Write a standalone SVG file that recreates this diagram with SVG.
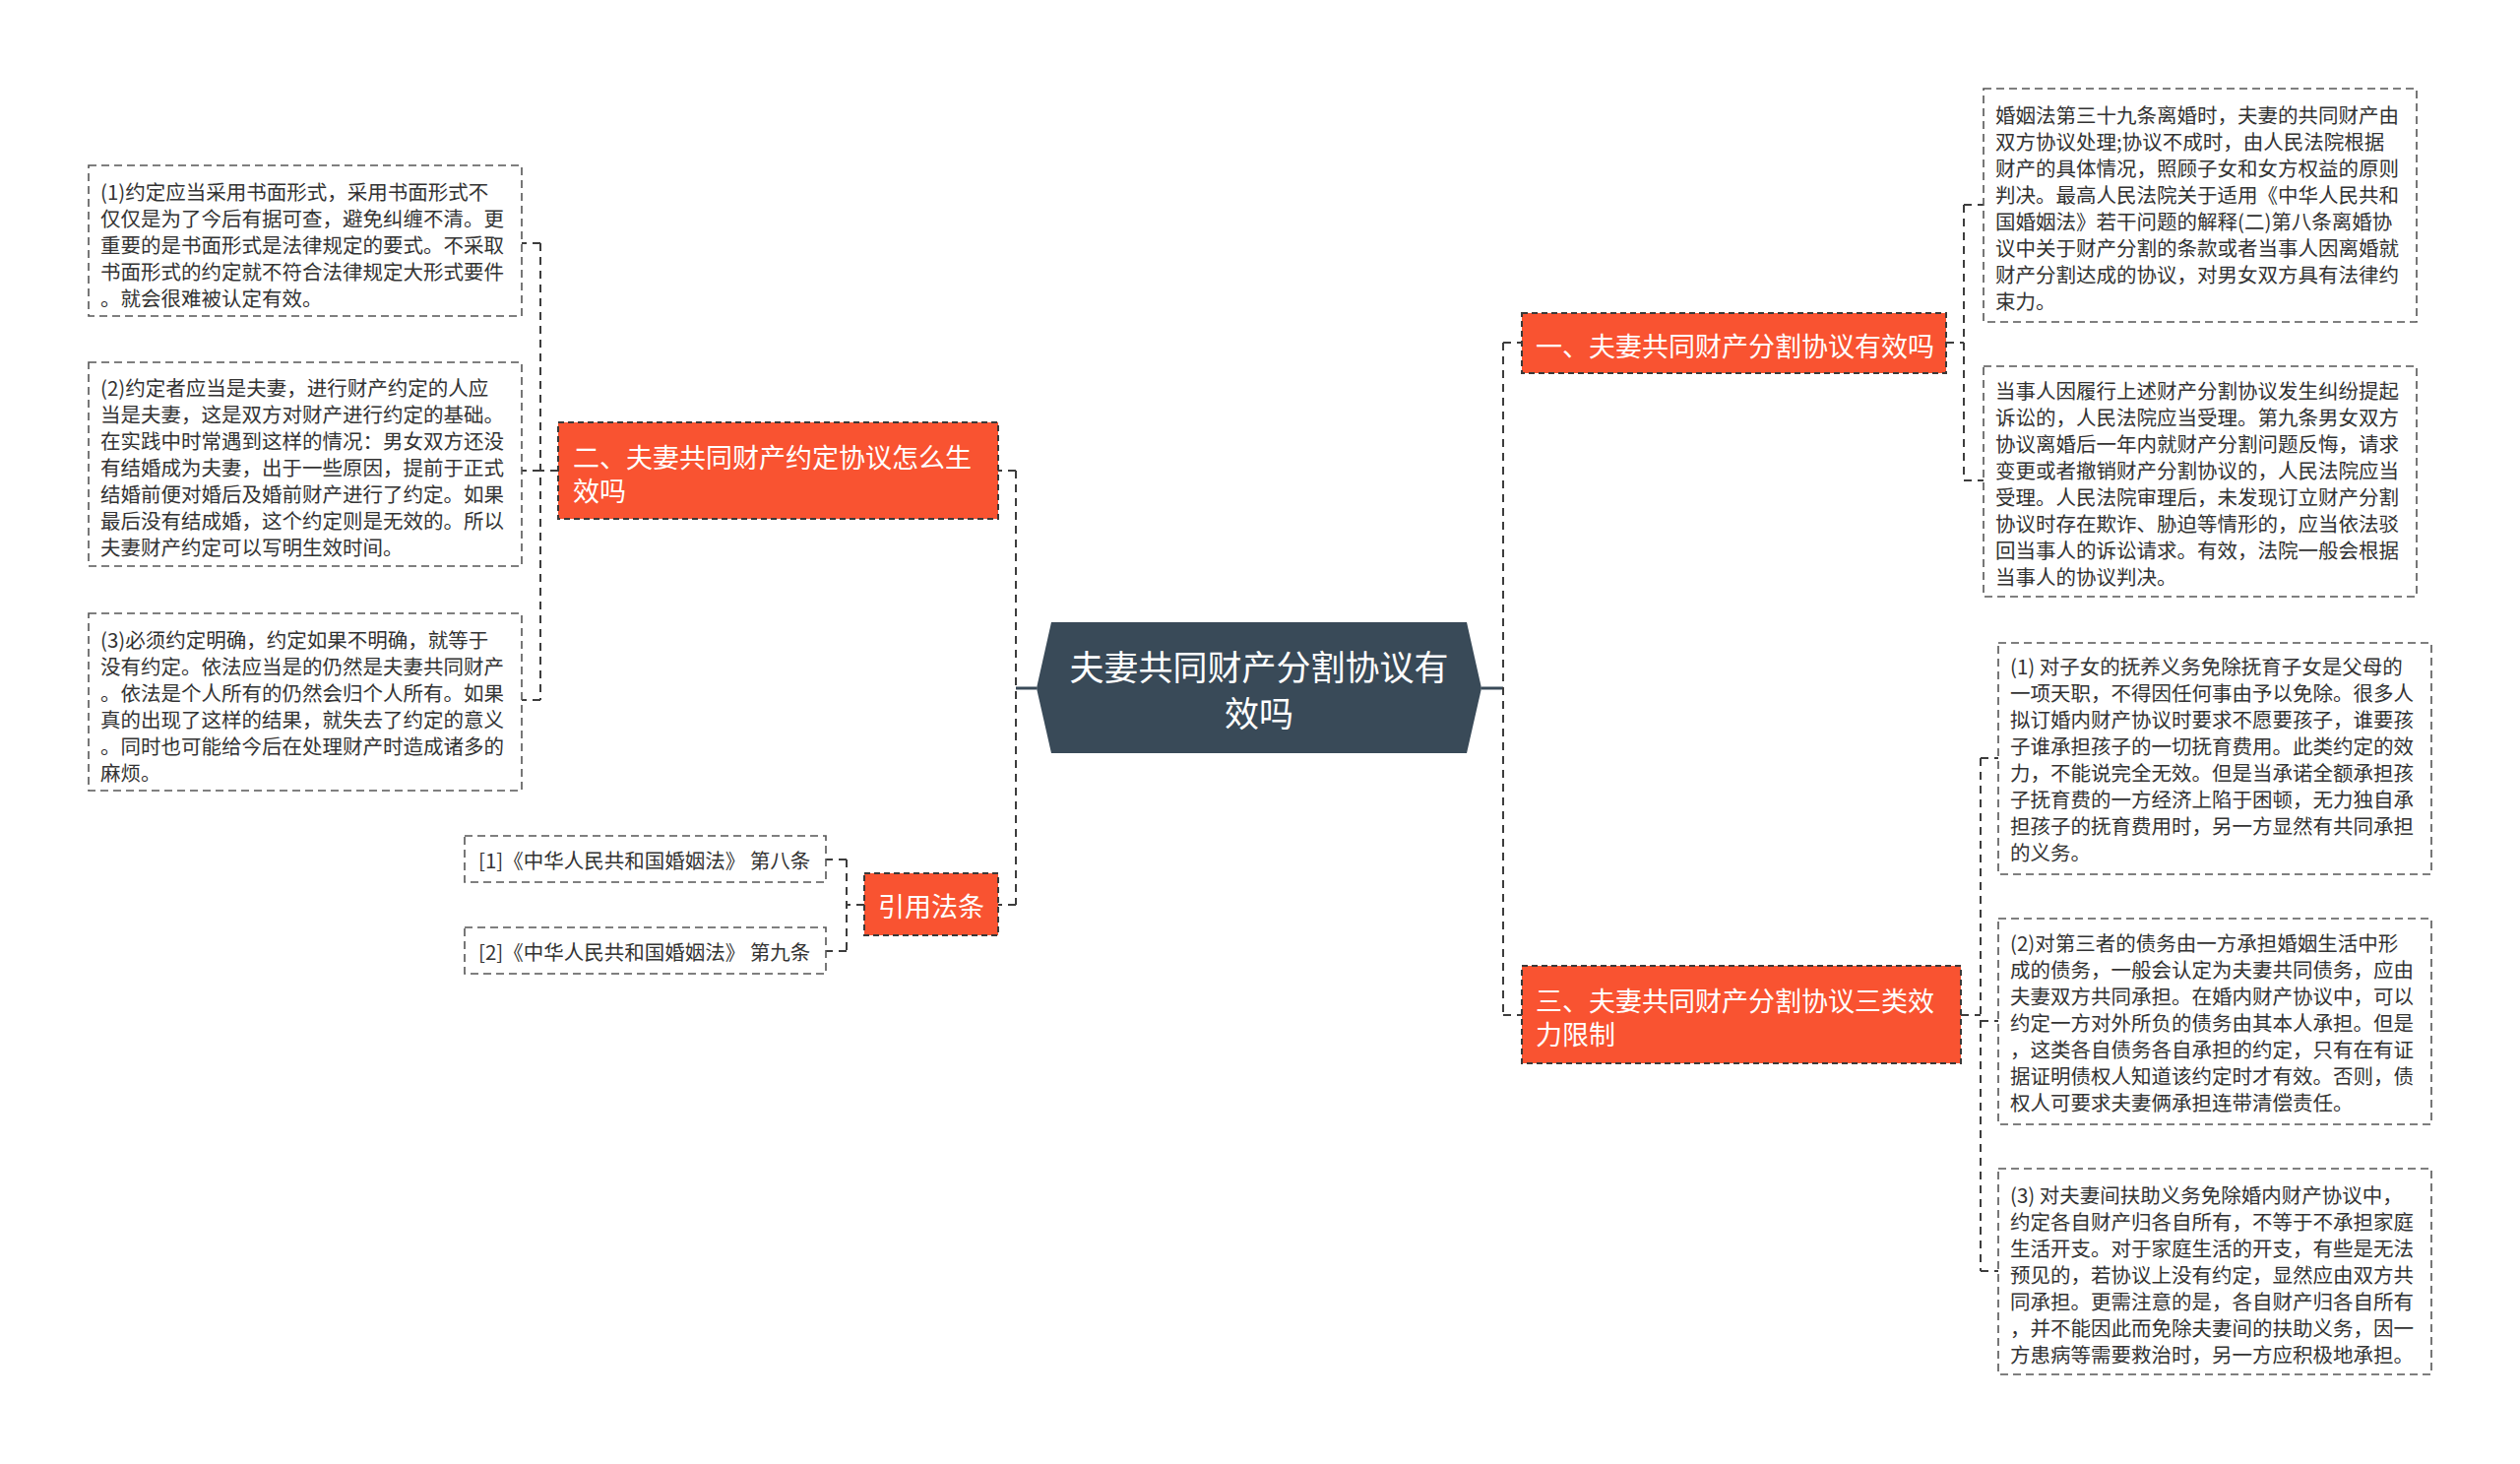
<svg xmlns="http://www.w3.org/2000/svg" width="2560" height="1487" viewBox="0 0 2560 1487">
<style>
.box{fill:#fff;stroke:#555;stroke-width:1.6;stroke-dasharray:8 5}
.branch{fill:#f95331;stroke:#3a3a3a;stroke-width:2;stroke-dasharray:6 4}
.conn{fill:none;stroke:#3d3d3d;stroke-width:2;stroke-dasharray:8 6}
.solid{fill:none;stroke:#394a58;stroke-width:3}
.t{font-family:"Noto Sans CJK SC","Liberation Sans",sans-serif;font-size:20.5px;fill:#333;dominant-baseline:central}
.bt{font-family:"Noto Sans CJK SC","Liberation Sans",sans-serif;font-size:27px;fill:#fff;dominant-baseline:central}
.rt{font-family:"Noto Sans CJK SC","Liberation Sans",sans-serif;font-size:35px;fill:#fff;dominant-baseline:central;text-anchor:middle}
</style>
<rect width="2560" height="1487" fill="#fff"/>
<g id="connectors">
<path class="solid" d="M1053 699 H1032"/>
<path class="conn" d="M1032 478 V919 M1032 478 H1014 M1032 919 H1014"/>
<path class="conn" d="M567 478 H549 M549 247 V711 M549 247 H530 M549 478 H530 M549 711 H530"/>
<path class="conn" d="M878 919 H860 M860 873 V966 M860 873 H839 M860 966 H839"/>
<path class="solid" d="M1505 699 H1527"/>
<path class="conn" d="M1527 348 V1031 M1527 348 H1546 M1527 1031 H1546"/>
<path class="conn" d="M1977 348 H1995 M1995 208 V488 M1995 208 H2015 M1995 488 H2015"/>
<path class="conn" d="M1992 1031 H2012 M2012 770 V1291 M2012 770 H2030 M2012 1037 H2030 M2012 1291 H2030"/>
</g>
<g id="root">
<polygon points="1053,699 1068,632 1490,632 1505,699 1490,765 1068,765" fill="#394a58"/>
<text class="rt" x="1279" y="675">夫妻共同财产分割协议有</text>
<text class="rt" x="1279" y="722">效吗</text>
</g>
<g id="n2">
<rect class="branch" x="567" y="429" width="447" height="98"/>
<text class="bt" x="582" y="463">二、夫妻共同财产约定协议怎么生</text>
<text class="bt" x="582" y="497">效吗</text>
</g>
<g id="n2-1">
<rect class="box" x="90" y="168" width="440" height="153"/>
<text class="t" x="102" y="194">(1)约定应当采用书面形式，采用书面形式不</text>
<text class="t" x="102" y="221">仅仅是为了今后有据可查，避免纠缠不清。更</text>
<text class="t" x="102" y="248">重要的是书面形式是法律规定的要式。不采取</text>
<text class="t" x="102" y="275">书面形式的约定就不符合法律规定大形式要件</text>
<text class="t" x="102" y="302">。就会很难被认定有效。</text>
</g>
<g id="n2-2">
<rect class="box" x="90" y="368" width="440" height="207"/>
<text class="t" x="102" y="393">(2)约定者应当是夫妻，进行财产约定的人应</text>
<text class="t" x="102" y="420">当是夫妻，这是双方对财产进行约定的基础。</text>
<text class="t" x="102" y="447">在实践中时常遇到这样的情况：男女双方还没</text>
<text class="t" x="102" y="474">有结婚成为夫妻，出于一些原因，提前于正式</text>
<text class="t" x="102" y="501">结婚前便对婚后及婚前财产进行了约定。如果</text>
<text class="t" x="102" y="528">最后没有结成婚，这个约定则是无效的。所以</text>
<text class="t" x="102" y="555">夫妻财产约定可以写明生效时间。</text>
</g>
<g id="n2-3">
<rect class="box" x="90" y="623" width="440" height="180"/>
<text class="t" x="102" y="649">(3)必须约定明确，约定如果不明确，就等于</text>
<text class="t" x="102" y="676">没有约定。依法应当是的仍然是夫妻共同财产</text>
<text class="t" x="102" y="703">。依法是个人所有的仍然会归个人所有。如果</text>
<text class="t" x="102" y="730">真的出现了这样的结果，就失去了约定的意义</text>
<text class="t" x="102" y="757">。同时也可能给今后在处理财产时造成诸多的</text>
<text class="t" x="102" y="784">麻烦。</text>
</g>
<g id="ref">
<rect class="branch" x="878" y="887" width="136" height="63"/>
<text class="bt" x="946" y="919" text-anchor="middle">引用法条</text>
</g>
<g id="ref-1">
<rect class="box" x="472" y="849" width="367" height="47"/>
<text class="t" x="486" y="873">[1]《中华人民共和国婚姻法》 第八条</text>
</g>
<g id="ref-2">
<rect class="box" x="472" y="942" width="367" height="47"/>
<text class="t" x="486" y="966">[2]《中华人民共和国婚姻法》 第九条</text>
</g>
<g id="n1">
<rect class="branch" x="1546" y="318" width="431" height="61"/>
<text class="bt" x="1560" y="350">一、夫妻共同财产分割协议有效吗</text>
</g>
<g id="n1-1">
<rect class="box" x="2015" y="90" width="440" height="237"/>
<text class="t" x="2027" y="116">婚姻法第三十九条离婚时，夫妻的共同财产由</text>
<text class="t" x="2027" y="143">双方协议处理;协议不成时，由人民法院根据</text>
<text class="t" x="2027" y="170">财产的具体情况，照顾子女和女方权益的原则</text>
<text class="t" x="2027" y="197">判决。最高人民法院关于适用《中华人民共和</text>
<text class="t" x="2027" y="224">国婚姻法》若干问题的解释(二)第八条离婚协</text>
<text class="t" x="2027" y="251">议中关于财产分割的条款或者当事人因离婚就</text>
<text class="t" x="2027" y="278">财产分割达成的协议，对男女双方具有法律约</text>
<text class="t" x="2027" y="305">束力。</text>
</g>
<g id="n1-2">
<rect class="box" x="2015" y="372" width="440" height="234"/>
<text class="t" x="2027" y="396">当事人因履行上述财产分割协议发生纠纷提起</text>
<text class="t" x="2027" y="423">诉讼的，人民法院应当受理。第九条男女双方</text>
<text class="t" x="2027" y="450">协议离婚后一年内就财产分割问题反悔，请求</text>
<text class="t" x="2027" y="477">变更或者撤销财产分割协议的，人民法院应当</text>
<text class="t" x="2027" y="504">受理。人民法院审理后，未发现订立财产分割</text>
<text class="t" x="2027" y="531">协议时存在欺诈、胁迫等情形的，应当依法驳</text>
<text class="t" x="2027" y="558">回当事人的诉讼请求。有效，法院一般会根据</text>
<text class="t" x="2027" y="585">当事人的协议判决。</text>
</g>
<g id="n3">
<rect class="branch" x="1546" y="981" width="446" height="99"/>
<text class="bt" x="1560" y="1015">三、夫妻共同财产分割协议三类效</text>
<text class="bt" x="1560" y="1049">力限制</text>
</g>
<g id="n3-1">
<rect class="box" x="2030" y="653" width="440" height="235"/>
<text class="t" x="2042" y="676">(1) 对子女的抚养义务免除抚育子女是父母的</text>
<text class="t" x="2042" y="703">一项天职，不得因任何事由予以免除。很多人</text>
<text class="t" x="2042" y="730">拟订婚内财产协议时要求不愿要孩子，谁要孩</text>
<text class="t" x="2042" y="757">子谁承担孩子的一切抚育费用。此类约定的效</text>
<text class="t" x="2042" y="784">力，不能说完全无效。但是当承诺全额承担孩</text>
<text class="t" x="2042" y="811">子抚育费的一方经济上陷于困顿，无力独自承</text>
<text class="t" x="2042" y="838">担孩子的抚育费用时，另一方显然有共同承担</text>
<text class="t" x="2042" y="865">的义务。</text>
</g>
<g id="n3-2">
<rect class="box" x="2030" y="933" width="440" height="209"/>
<text class="t" x="2042" y="957">(2)对第三者的债务由一方承担婚姻生活中形</text>
<text class="t" x="2042" y="984">成的债务，一般会认定为夫妻共同债务，应由</text>
<text class="t" x="2042" y="1011">夫妻双方共同承担。在婚内财产协议中，可以</text>
<text class="t" x="2042" y="1038">约定一方对外所负的债务由其本人承担。但是</text>
<text class="t" x="2042" y="1065">，这类各自债务各自承担的约定，只有在有证</text>
<text class="t" x="2042" y="1092">据证明债权人知道该约定时才有效。否则，债</text>
<text class="t" x="2042" y="1119">权人可要求夫妻俩承担连带清偿责任。</text>
</g>
<g id="n3-3">
<rect class="box" x="2030" y="1187" width="440" height="209"/>
<text class="t" x="2042" y="1213">(3) 对夫妻间扶助义务免除婚内财产协议中，</text>
<text class="t" x="2042" y="1240">约定各自财产归各自所有，不等于不承担家庭</text>
<text class="t" x="2042" y="1267">生活开支。对于家庭生活的开支，有些是无法</text>
<text class="t" x="2042" y="1294">预见的，若协议上没有约定，显然应由双方共</text>
<text class="t" x="2042" y="1321">同承担。更需注意的是，各自财产归各自所有</text>
<text class="t" x="2042" y="1348">，并不能因此而免除夫妻间的扶助义务，因一</text>
<text class="t" x="2042" y="1375">方患病等需要救治时，另一方应积极地承担。</text>
</g>
</svg>
